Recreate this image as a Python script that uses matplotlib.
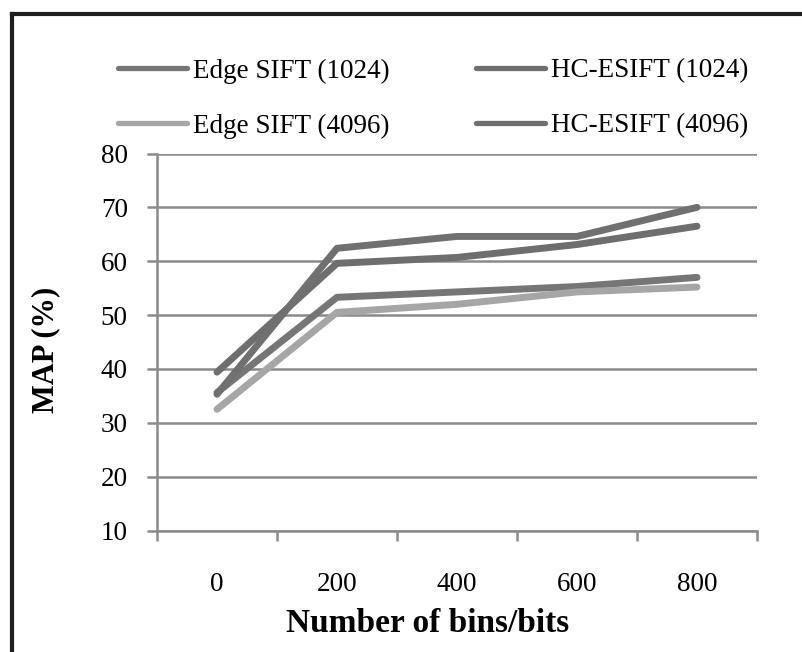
import matplotlib
matplotlib.use('Agg')
import matplotlib.pyplot as plt
from matplotlib.lines import Line2D
import numpy as np

# data
bins = ['0', '200', '400', '600', '800']
edge_1024 = [35.6, 53.3, 54.3, 55.3, 57.0]
hc_1024 = [39.4, 59.6, 60.7, 63.1, 66.5]
edge_4096 = [32.5, 50.5, 52.0, 54.3, 55.2]
hc_4096 = [35.3, 62.4, 64.6, 64.6, 70.0]

plt.rcParams['font.family'] = ['Liberation Serif', 'DejaVu Serif']

fig = plt.figure(figsize=(8.02, 6.52), dpi=100)
ax = fig.add_axes([157/802, 1 - 530.5/652, 600/802, 377/652])

x = np.arange(len(bins))
lw = 5.0
l1, = ax.plot(x, edge_1024, color='#767676', lw=lw, solid_capstyle='round', solid_joinstyle='round')
l3, = ax.plot(x, edge_4096, color='#a6a6a6', lw=lw, solid_capstyle='round', solid_joinstyle='round')
l2, = ax.plot(x, hc_1024, color='#6e6e6e', lw=lw, solid_capstyle='round', solid_joinstyle='round')
l4, = ax.plot(x, hc_4096, color='#707070', lw=lw, solid_capstyle='round', solid_joinstyle='round')

ax.set_xlim(-0.5, len(bins) - 0.5)
ax.set_ylim(10, 80)
ax.set_yticks(range(10, 81, 10))
ax.set_xticks(x)
ax.set_xticklabels(bins)
ax.set_xticks(np.arange(-0.5, len(bins)), minor=True)

gray = '#8a8a8a'
ax.yaxis.grid(True, color=gray, lw=1.8)
ax.set_axisbelow(True)
for s in ['top', 'right']:
    ax.spines[s].set_visible(False)
for s in ['left', 'bottom']:
    ax.spines[s].set_color(gray)
    ax.spines[s].set_linewidth(1.8)

ax.tick_params(axis='y', direction='out', length=7, width=1.8, color=gray,
               labelsize=19.5, pad=14)
ax.tick_params(axis='x', which='major', length=0, labelsize=19.5, pad=30)
ax.tick_params(axis='x', which='minor', direction='out', length=7, width=1.8, color=gray)

ax.set_xlabel('Number of bins/bits', fontsize=24, fontweight='bold')
ax.xaxis.set_label_coords((428 - 157) / 600, -0.205)
ax.set_ylabel('MAP (%)', fontsize=22, fontweight='bold')
ax.yaxis.set_label_coords((60 - 157) / 600, (530.5 - 350) / 377)

leg = ax.legend([l1, l3, l2, l4],
                ['Edge SIFT (1024)', 'Edge SIFT (4096)', 'HC-ESIFT (1024)', 'HC-ESIFT (4096)'],
                ncol=2, loc='center', bbox_to_anchor=(433/802, 1 - 98.5/652),
                bbox_transform=fig.transFigure, frameon=False, fontsize=19.5,
                handlelength=2.55, handletextpad=0.22, columnspacing=3.2,
                labelspacing=1.1, borderpad=0)
for h in leg.get_lines():
    h.set_linewidth(3.8)

# dark frame on top and left edges
fig.add_artist(Line2D([12/802, 1], [1 - 14/652, 1 - 14/652], transform=fig.transFigure,
                      color='#1e1e1e', lw=3, solid_capstyle='projecting'))
fig.add_artist(Line2D([12/802, 12/802], [0, 1 - 14/652], transform=fig.transFigure,
                      color='#1e1e1e', lw=3, solid_capstyle='projecting'))

plt.savefig('out.png', dpi=100)
